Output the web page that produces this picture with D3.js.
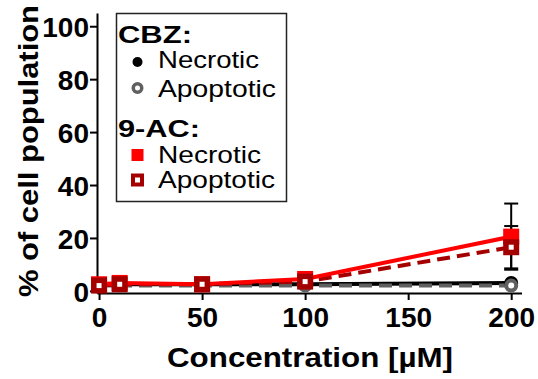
<!DOCTYPE html>
<html>
<head>
<meta charset="utf-8">
<script src="https://cdn.jsdelivr.net/npm/d3@7"></script>
<style>
  body { margin: 0; background: #fff; }
  svg { font-family: "Liberation Sans", Arial, sans-serif; }
</style>
</head>
<body>
<svg id="chart" width="538" height="379"></svg>
<script>
// concentrations (µM)
const conc = [0, 10, 50, 100, 200];
// % of cell population
const cbzNecrotic = [2.5, 2.5, 2.5, 2.5, 3];
const cbzApoptotic = [2, 2, 2, 2, 2];
const acNecrotic = [2.5, 3, 2.5, 4.5, 20.5];
const acApoptotic = [2, 2.5, 2.5, 3.5, 16.5];
const acNecroticErr = [0, 0, 0, 0, 12.5];
const acApoptoticErr = [0, 0, 0, 0, 8];
const xTicks = [0, 50, 100, 150, 200];
const yTicks = [0, 20, 40, 60, 80, 100];

const svg = d3.select("#chart");

const x = d3.scaleLinear().domain([-1, 205]).range([97, 521.5]);
const y = d3.scaleLinear().domain([-0.8, 105]).range([293, 13]);

const series = [
  { name: "cbzNec", vals: cbzNecrotic, err: null, color: "#000000", dash: null, marker: "circle" },
  { name: "cbzApo", vals: cbzApoptotic, err: null, color: "#606060", dash: "13,7", marker: "circleOpen" },
  { name: "acApo", vals: acApoptotic, err: acApoptoticErr, color: "#a50000", dash: "13,7", marker: "squareOpen" },
  { name: "acNec", vals: acNecrotic, err: acNecroticErr, color: "#ff0000", dash: null, marker: "square" }
];
// markers: necrotic under apoptotic
const markerOrder = ["cbzNec", "cbzApo", "acNec", "acApo"];

// stretch a text to a measured width
function fit(sel, w) {
  sel.attr("textLength", w).attr("lengthAdjust", "spacingAndGlyphs");
  return sel;
}

// axes
const xAxis = svg.append("g")
  .attr("transform", `translate(0,${y.range()[0]})`)
  .call(d3.axisBottom(x).tickValues(xTicks).tickSize(7).tickSizeOuter(0));
const yAxis = svg.append("g")
  .attr("transform", `translate(${x.range()[0]},0)`)
  .call(d3.axisLeft(y).tickValues(yTicks).tickSize(7).tickSizeOuter(0));

[xAxis, yAxis].forEach(ax => {
  ax.select(".domain").attr("stroke", "#000").attr("stroke-width", 2);
  ax.selectAll(".tick line").attr("stroke", "#000").attr("stroke-width", 2);
  ax.selectAll(".tick text")
    .attr("fill", "#000")
    .style("font-size", "28px")
    .style("font-weight", "bold")
    .style("font-family", "'Liberation Sans', Arial, sans-serif");
});
xAxis.selectAll(".tick text").attr("dy", null).attr("y", 34);
yAxis.selectAll(".tick text").attr("x", -8).attr("dy", "0.37em");

// axis titles
fit(svg.append("text")
  .attr("x", 310).attr("y", 367)
  .attr("text-anchor", "middle")
  .style("font-size", "27px").style("font-weight", "bold")
  .text("Concentration [µM]"), 286);
fit(svg.append("text")
  .attr("transform", "translate(38,151) rotate(-90)")
  .attr("text-anchor", "middle")
  .style("font-size", "27px").style("font-weight", "bold")
  .text("% of cell population"), 292);

// lines
const line = d3.line().x((d, i) => x(conc[i])).y(d => y(d));
series.forEach(s => {
  svg.append("path")
    .datum(s.vals)
    .attr("fill", "none")
    .attr("stroke", s.color)
    .attr("stroke-width", 4)
    .attr("stroke-dasharray", s.dash)
    .attr("d", line);
});

// error bars
series.filter(s => s.err).forEach(s => {
  s.vals.forEach((v, i) => {
    const e = s.err[i];
    if (!e) return;
    const cx = x(conc[i]);
    const g = svg.append("g").attr("stroke", "#000").attr("stroke-width", 2);
    g.append("line").attr("x1", cx).attr("x2", cx).attr("y1", y(v + e)).attr("y2", y(v - e));
    g.append("line").attr("x1", cx - 7).attr("x2", cx + 7).attr("y1", y(v + e)).attr("y2", y(v + e));
    g.append("line").attr("x1", cx - 7).attr("x2", cx + 7).attr("y1", y(v - e)).attr("y2", y(v - e));
  });
});

function drawMarker(g, type, color, cx, cy, size, sw) {
  if (type === "circle") {
    g.append("circle").attr("cx", cx).attr("cy", cy).attr("r", size / 2).attr("fill", color);
  } else if (type === "circleOpen") {
    g.append("circle").attr("cx", cx).attr("cy", cy).attr("r", size / 2 - sw / 2)
      .attr("fill", "#fff").attr("stroke", color).attr("stroke-width", sw);
  } else if (type === "square") {
    g.append("rect").attr("x", cx - size / 2).attr("y", cy - size / 2)
      .attr("width", size).attr("height", size).attr("fill", color);
  } else {
    g.append("rect").attr("x", cx - size / 2 + sw / 2).attr("y", cy - size / 2 + sw / 2)
      .attr("width", size - sw).attr("height", size - sw)
      .attr("fill", "#fff").attr("stroke", color).attr("stroke-width", sw);
  }
}

// markers
markerOrder.forEach(name => {
  const s = series.find(d => d.name === name);
  const g = svg.append("g");
  s.vals.forEach((v, i) => {
    const round = s.marker.startsWith("circle");
    drawMarker(g, s.marker, s.color, x(conc[i]), y(v), round ? 14 : 16, round ? 4 : 5.5);
  });
});

// legend
const legend = svg.append("g");
legend.append("rect")
  .attr("x", 116.5).attr("y", 13.5).attr("width", 170).attr("height", 188)
  .attr("fill", "#fff").attr("stroke", "#222").attr("stroke-width", 1.5);

const legendGroups = [
  { title: "CBZ:", ty: 43, tw: 74, items: [
    { label: "Necrotic", marker: "circle", color: "#000000", yy: 68, my: 62, w: 101, sz: 10, sw: 0 },
    { label: "Apoptotic", marker: "circleOpen", color: "#606060", yy: 97, my: 88, w: 118, sz: 12, sw: 3.5 }
  ] },
  { title: "9-AC:", ty: 137, tw: 82, items: [
    { label: "Necrotic", marker: "square", color: "#ff0000", yy: 163, my: 155, w: 103, sz: 12, sw: 0 },
    { label: "Apoptotic", marker: "squareOpen", color: "#a50000", yy: 188, my: 180, w: 117, sz: 13, sw: 4 }
  ] }
];
legendGroups.forEach(grp => {
  fit(legend.append("text")
    .attr("x", 118).attr("y", grp.ty)
    .style("font-size", "24px").style("font-weight", "bold")
    .text(grp.title), grp.tw);
  grp.items.forEach(it => {
    drawMarker(legend, it.marker, it.color, 137.5, it.my, it.sz, it.sw);
    fit(legend.append("text")
      .attr("x", 158).attr("y", it.yy)
      .style("font-size", "24px")
      .text(it.label), it.w);
  });
});
</script>
</body>
</html>
